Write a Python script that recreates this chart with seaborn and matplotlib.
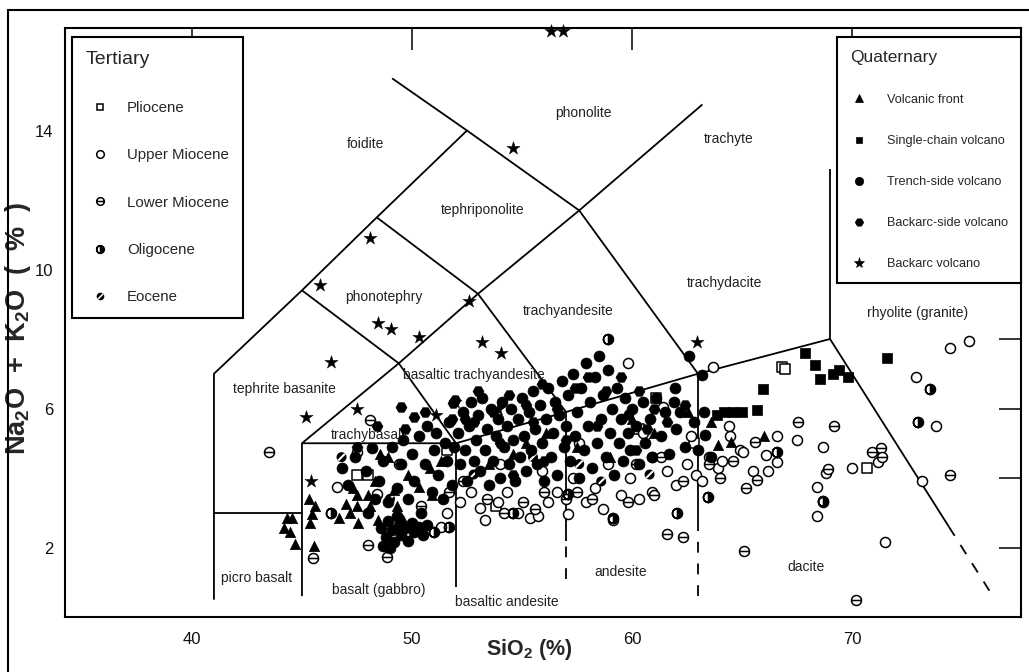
import numpy as np
import pandas as pd
import matplotlib
matplotlib.use("Agg")
import matplotlib.pyplot as plt
from matplotlib import font_manager
from matplotlib.path import Path
from matplotlib.lines import Line2D
from matplotlib.patches import Rectangle
import seaborn as sns

# ---------------------------------------------------------------- data
# (SiO2 %, Na2O+K2O %)
pliocene = [(48.0, 4.1), (51.6, 4.8), (61.1, 6.3), (60.3, 5.4), (62.8, 5.0), (66.8, 7.2),
            (66.95, 7.15), (70.7, 4.3), (53.8, 3.2), (47.5, 4.1)]

upper_miocene = [(46.6, 3.75), (47.5, 4.75), (48.4, 3.55), (51.3, 2.6), (51.6, 3.0), (52.2, 3.3),
                 (52.7, 3.6), (53.1, 3.15), (53.3, 2.8), (53.9, 3.3), (54.3, 3.6), (54.8, 3.0),
                 (55.35, 2.85), (55.75, 2.9), (56.2, 3.3), (56.6, 3.6), (57.1, 2.95), (57.3, 4.0),
                 (57.9, 3.3), (58.3, 3.7), (58.7, 3.1), (59.15, 2.8), (59.5, 3.5), (59.9, 4.0),
                 (60.3, 3.4), (60.5, 5.3), (60.9, 4.6), (61.4, 6.05), (61.6, 4.2), (62.0, 3.8),
                 (62.5, 4.4), (62.9, 4.1), (63.5, 4.6), (63.9, 4.3), (59.8, 7.3), (63.7, 7.2),
                 (57.6, 5.0), (55.9, 4.2), (54.0, 4.4), (58.9, 4.4), (60.9, 3.6), (62.7, 5.2),
                 (64.4, 5.5), (64.45, 5.2), (64.9, 4.8), (65.05, 4.75), (65.5, 4.2), (66.1, 4.65),
                 (66.6, 4.45), (66.2, 4.2), (66.6, 5.2), (67.5, 5.1), (68.7, 4.9), (68.8, 4.15),
                 (70.0, 4.3), (68.7, 3.3), (68.4, 2.9), (68.4, 3.75), (71.5, 2.15), (73.2, 3.9),
                 (71.2, 4.45), (72.9, 6.9), (74.45, 7.75), (75.3, 7.95), (73.8, 5.5), (64.1, 4.5),
                 (63.2, 3.9)]

lower_miocene = [(43.5, 4.75), (45.5, 1.7), (48.0, 2.07), (48.85, 1.73), (48.1, 5.68), (49.4, 4.4),
                 (50.4, 3.2), (51.7, 3.6), (52.3, 3.9), (53.4, 3.4), (54.2, 3.0), (55.05, 3.3),
                 (56.0, 3.6), (57.5, 3.6), (58.2, 3.4), (59.8, 3.3), (60.2, 4.4), (61.0, 3.5),
                 (61.3, 4.6), (61.6, 2.4), (62.3, 2.3), (62.3, 3.9), (63.5, 4.4), (64.0, 4.0),
                 (64.6, 4.5), (65.2, 3.7), (65.7, 3.95), (65.6, 5.05), (65.1, 1.9), (67.55, 5.6),
                 (69.2, 5.5), (68.9, 4.25), (70.9, 4.75), (71.3, 4.85), (71.35, 4.6), (74.45, 4.1),
                 (70.2, 0.5), (55.6, 3.1), (57.0, 3.4)]

oligocene = [(58.9, 8.0), (73.55, 6.55), (73.0, 5.6), (63.45, 3.45), (62.05, 3.0), (66.6, 4.75),
             (68.7, 3.35), (46.3, 3.0), (51.0, 2.45), (54.6, 3.0), (57.1, 3.55), (59.15, 2.85),
             (51.7, 2.6)]

eocene = [(52.8, 4.1), (55.5, 4.6), (57.6, 4.4), (49.0, 3.4), (60.8, 4.1), (46.8, 4.6), (58.6, 3.9)]

volcanic_front = [(44.3, 2.85), (44.55, 2.85), (44.45, 2.45), (44.2, 2.55), (44.7, 2.1), (45.55, 2.05),
                  (45.3, 3.4), (45.45, 2.95), (45.6, 3.2), (45.35, 2.7), (46.7, 2.85), (47.0, 3.25),
                  (47.3, 3.7), (47.2, 3.0), (47.55, 2.7), (47.5, 3.2), (47.5, 3.5), (48.0, 3.5),
                  (48.1, 3.2), (48.45, 2.8), (48.55, 4.7), (48.9, 4.6), (48.3, 3.9), (49.2, 3.65),
                  (49.3, 3.2), (49.6, 2.8), (49.8, 4.1), (50.3, 3.75), (50.8, 4.3), (50.9, 3.5),
                  (51.3, 4.5), (53.5, 4.4), (54.6, 4.7), (55.2, 5.0), (56.1, 5.3), (57.5, 4.9),
                  (59.0, 4.6), (60.0, 5.7), (61.0, 5.3), (62.55, 5.9), (63.6, 5.6), (63.9, 4.95),
                  (64.5, 5.05), (66.0, 5.2)]

single_chain = [(71.6, 7.45), (67.85, 7.6), (68.3, 7.25), (68.55, 6.85), (69.15, 7.0), (69.4, 7.1),
                (69.8, 6.9), (65.95, 6.55), (65.7, 5.95), (64.6, 5.9), (64.2, 5.9), (63.85, 5.8),
                (65.0, 5.9)]

trench_side = [
    (48.6, 2.55), (48.8, 2.3), (48.9, 2.75), (49.1, 2.5), (49.2, 2.15), (49.4, 2.65), (49.5, 2.35),
    (49.7, 2.55), (49.8, 2.2), (50.0, 2.7), (50.1, 2.45), (50.3, 2.6), (50.5, 2.35), (49.3, 2.9),
    (48.7, 2.05), (50.7, 2.65), (49.0, 2.0),
    (46.8, 4.3), (47.4, 4.6), (47.9, 4.2), (48.2, 4.85), (48.5, 3.9), (48.7, 4.5), (48.9, 3.3),
    (49.1, 4.9), (49.3, 3.7), (49.5, 4.4), (49.6, 5.1), (49.8, 3.4), (50.0, 4.7), (50.1, 3.9),
    (50.3, 5.2), (50.4, 3.0), (50.6, 4.4), (50.7, 5.5), (50.9, 3.6), (51.0, 4.8), (51.1, 5.3),
    (51.2, 4.1), (51.4, 3.4), (51.5, 5.0), (51.6, 4.5), (51.7, 5.6), (51.8, 3.8), (51.9, 4.9),
    (47.1, 3.8), (48.0, 3.0), (48.3, 3.4),
    (52.1, 5.3), (52.2, 4.4), (52.3, 5.9), (52.4, 4.8), (52.5, 3.9), (52.6, 5.5), (52.7, 6.2),
    (52.8, 4.5), (52.9, 5.1), (53.0, 5.8), (53.1, 4.2), (53.2, 6.3), (53.3, 4.8), (53.4, 5.4),
    (53.5, 3.8), (53.6, 6.0), (53.7, 4.5), (53.8, 5.2), (53.9, 5.7), (54.0, 4.0), (54.1, 6.2),
    (54.2, 4.9), (54.3, 5.5), (54.4, 4.4), (54.5, 6.0), (54.6, 5.1), (54.7, 3.9), (54.8, 5.7),
    (54.9, 4.6), (55.0, 6.3), (55.1, 5.2), (55.2, 4.2), (55.3, 5.9), (55.4, 4.8), (55.5, 6.5),
    (55.6, 5.4), (55.7, 4.4), (55.8, 6.1), (55.9, 5.0), (56.0, 3.9), (56.1, 5.7), (56.2, 6.6),
    (56.3, 4.6), (56.4, 5.3), (56.5, 6.2), (56.6, 4.1), (56.7, 5.8), (56.8, 6.8), (56.9, 4.9),
    (57.0, 5.5),
    (57.1, 6.4), (57.2, 4.5), (57.3, 7.0), (57.4, 5.2), (57.5, 5.9), (57.6, 4.0), (57.7, 6.6),
    (57.8, 4.8), (57.9, 7.3), (58.0, 5.5), (58.1, 6.2), (58.2, 4.3), (58.3, 6.9), (58.4, 5.0),
    (58.5, 7.5), (58.6, 5.7), (58.7, 6.4), (58.8, 4.6), (58.9, 7.1), (59.0, 5.3), (59.1, 6.0),
    (59.2, 4.1), (59.3, 6.6), (59.4, 5.0), (59.5, 5.7), (59.6, 4.5), (59.7, 6.3), (59.8, 5.3),
    (59.9, 4.8), (60.0, 6.0), (60.2, 5.5), (60.3, 4.4), (60.5, 6.2), (60.6, 5.0), (60.8, 5.7),
    (60.9, 4.6),
    (61.1, 6.3), (61.3, 5.2), (61.5, 5.9), (61.7, 4.7), (61.9, 6.2), (62.0, 5.4), (62.2, 5.9),
    (62.4, 4.9), (62.6, 7.5), (62.8, 5.6), (63.0, 4.8), (63.2, 6.95), (63.25, 5.9), (63.3, 5.25),
    (63.6, 4.6), (61.95, 6.6)]

backarc_side = [(49.5, 6.05), (50.1, 5.75), (51.85, 6.15), (51.95, 6.25), (51.8, 5.7), (50.6, 5.9),
                (49.7, 5.4), (52.4, 5.7), (53.0, 6.5), (53.7, 5.9), (54.4, 6.4), (55.2, 6.1),
                (55.9, 6.7), (56.6, 6.0), (57.4, 6.6), (58.0, 6.9), (58.8, 6.5), (59.5, 6.9),
                (60.3, 6.5), (61.0, 6.0), (52.8, 5.6), (54.0, 5.0), (55.5, 5.6), (57.0, 5.1),
                (58.4, 5.5), (59.8, 5.8), (60.7, 5.4), (61.6, 5.6), (62.4, 6.1), (47.5, 4.9),
                (48.4, 5.5), (56.0, 4.5), (54.6, 4.1), (60.2, 4.8)]

backarc_volcano = [(56.3, 16.85), (56.85, 16.85), (54.6, 13.5), (48.1, 10.9), (45.8, 9.55),
                   (48.45, 8.45), (49.05, 8.3), (50.3, 8.07), (52.6, 9.1), (53.2, 7.9), (54.05, 7.6),
                   (46.3, 7.35), (45.2, 5.75), (47.5, 6.0), (51.1, 5.8), (51.95, 6.2), (53.9, 6.0),
                   (62.95, 7.9), (45.4, 3.9)]

# TAS field boundaries (SiO2, alkali)
solid_boundaries = [
    [(41, 0.5), (41, 7), (45, 9.4), (48.4, 11.5), (52.5, 14)],
    [(41, 3), (45, 3)],
    [(45, 0.6), (45, 5), (49.4, 7.3), (53, 9.3), (57.6, 11.7), (63.2, 14.75)],
    [(45, 5), (52, 5), (57, 5.9), (63, 7), (69, 8)],
    [(45, 9.4), (49.4, 7.3), (52, 5)],
    [(48.4, 11.5), (53, 9.3), (57, 5.9)],
    [(49.1, 15.5), (52.5, 14), (57.6, 11.7), (63, 7)],
    [(52, 0.85), (52, 5)],
    [(57, 2.2), (57, 5.9)],
    [(63, 2.5), (63, 7)],
    [(69, 8), (69, 12.9)],
    [(69, 8), (74.4, 2.6)],
]
dashed_boundaries = [
    [(57, 1.1), (57, 2.2)],
    [(63, 0.6), (63, 2.5)],
    [(74.4, 2.6), (76.5, 0.5)],
]

field_names = ["foidite", "phonolite", "trachyte", "tephriponolite", "phonotephry",
               "trachyandesite", "trachydacite", "rhyolite (granite)", "tephrite basanite",
               "basaltic trachyandesite", "trachybasalt", "picro basalt", "basalt (gabbro)",
               "basaltic andesite", "andesite", "dacite"]
field_x = [47.9, 57.8, 64.4, 53.2, 48.7, 57.1, 64.2, 73.0, 44.2, 52.8, 48.0, 42.95, 48.5, 54.3, 59.5, 67.9]
field_y = [13.6, 14.5, 13.75, 11.7, 9.2, 8.8, 9.6, 8.75, 6.55, 6.95, 5.25, 1.12, 0.78, 0.43, 1.3, 1.44]

x_ticks = [40, 50, 60, 70]
y_ticks = [2, 4, 6, 8, 10, 12, 14, 16]
y_tick_labels = ["2", "", "6", "", "10", "", "14", ""]

tertiary_labels = ["Pliocene", "Upper Miocene", "Lower Miocene", "Oligocene", "Eocene"]
quaternary_labels = ["Volcanic front", "Single-chain volcano", "Trench-side volcano",
                     "Backarc-side volcano", "Backarc volcano"]

# ---------------------------------------------------------------- markers
def arc(a0, a1, n=40):
    t = np.linspace(a0, a1, n)
    return np.column_stack([np.cos(t), np.sin(t)])

_c = arc(0, 2 * np.pi, 48)
M_BAR = Path(np.vstack([_c, [[-1, 0], [1, 0]]]),
             [Path.MOVETO] + [Path.LINETO] * (len(_c) - 1) + [Path.MOVETO, Path.LINETO])

_r = arc(-np.pi / 2, np.pi / 2, 24)
_l = arc(np.pi / 2, 3 * np.pi / 2, 24)
M_HALF = Path(np.vstack([_r, [[0, -1]], _l, _l[-2::-1]]),
              [Path.MOVETO] + [Path.LINETO] * (len(_r) - 1) + [Path.CLOSEPOLY]
              + [Path.MOVETO] + [Path.LINETO] * (len(_l) - 1) + [Path.LINETO] * (len(_l) - 1))

_w = 0.2
_rect = np.array([[-0.93, -_w], [-0.93, _w], [0.93, _w], [0.93, -_w], [-0.93, -_w]])
_rot = np.array([[np.cos(np.pi / 4), -np.sin(np.pi / 4)], [np.sin(np.pi / 4), np.cos(np.pi / 4)]])
_rect = _rect @ _rot.T
M_SLIT = Path(np.vstack([_c, _rect]),
              [Path.MOVETO] + [Path.LINETO] * (len(_c) - 1)
              + [Path.MOVETO] + [Path.LINETO] * 3 + [Path.CLOSEPOLY])

# ---------------------------------------------------------------- style
sns.set_theme(style="white")
_names = {f.name for f in font_manager.fontManager.ttflist}
if "Liberation Sans Narrow" in _names:
    BASE, SC = "Liberation Sans Narrow", 1.2
else:
    BASE, SC = "Liberation Sans", 1.0
plt.rcParams["font.family"] = [BASE, "DejaVu Sans"]
plt.rcParams["mathtext.fontset"] = "custom"
plt.rcParams["mathtext.rm"] = BASE
plt.rcParams["mathtext.bf"] = BASE + ":bold"
plt.rcParams["mathtext.it"] = BASE + ":italic"

W, H = 1029, 672
fig = plt.figure(figsize=(W / 100, H / 100), dpi=100)
fig.patch.set_facecolor("white")
ax = fig.add_axes([65 / W, 55 / H, 956 / W, 589 / H])
ax.set_facecolor("white")

# boundaries
for seg in solid_boundaries:
    xs, ys = zip(*seg)
    ax.plot(xs, ys, color="black", lw=1.3, zorder=1, solid_capstyle="butt")
for seg in dashed_boundaries:
    xs, ys = zip(*seg)
    ax.plot(xs, ys, color="black", lw=1.3, ls=(0, (6, 6)), zorder=1)

for name, fx, fy in zip(field_names, field_x, field_y):
    ax.text(fx, fy, name, ha="center", va="center", fontsize=10 * SC, color="#222222", zorder=2)

# scatter groups
groups = [
    ("Pliocene", pliocene, dict(marker="s", s=42, facecolor="white", edgecolor="black", linewidth=1.1)),
    ("Upper Miocene", upper_miocene, dict(marker="o", s=52, facecolor="white", edgecolor="black", linewidth=1.1)),
    ("Lower Miocene", lower_miocene, dict(marker=M_BAR, s=52, facecolor="white", edgecolor="black", linewidth=1.1)),
    ("Oligocene", oligocene, dict(marker=M_HALF, s=52, facecolor="black", edgecolor="black", linewidth=1.1)),
    ("Eocene", eocene, dict(marker=M_SLIT, s=52, facecolor="black", edgecolor="none", linewidth=0)),
    ("Volcanic front", volcanic_front, dict(marker="^", s=55, facecolor="black", edgecolor="black", linewidth=0.5)),
    ("Single-chain volcano", single_chain, dict(marker="s", s=42, facecolor="black", edgecolor="black", linewidth=0.5)),
    ("Trench-side volcano", trench_side, dict(marker="o", s=62, facecolor="black", edgecolor="black", linewidth=0.5)),
    ("Backarc-side volcano", backarc_side, dict(marker="H", s=62, facecolor="black", edgecolor="black", linewidth=0.5)),
    ("Backarc volcano", backarc_volcano, dict(marker="*", s=100, facecolor="black", edgecolor="black", linewidth=0.3)),
]
legend_ms = {"Pliocene": 5, "Upper Miocene": 5.5, "Lower Miocene": 5.5, "Oligocene": 5.5, "Eocene": 5.5,
             "Volcanic front": 5.5, "Single-chain volcano": 5, "Trench-side volcano": 6,
             "Backarc-side volcano": 6, "Backarc volcano": 8}

frames = []
for name, pts, _ in groups:
    d = pd.DataFrame(pts, columns=["sio2", "alk"])
    d["group"] = name
    frames.append(d)
df = pd.concat(frames, ignore_index=True)

for z, (name, _, kw) in enumerate(groups):
    sub = df[df["group"] == name]
    sns.scatterplot(data=sub, x="sio2", y="alk", ax=ax, legend=False, zorder=3 + z * 0.01,
                    clip_on=(name != "Backarc volcano"), **kw)

# axes
ax.set_xlim(34.23, 77.68)
ax.set_ylim(0, 16.95)
ax.set_xticks(x_ticks)
ax.set_xticklabels([str(v) for v in x_ticks])
ax.set_yticks(y_ticks)
ax.set_yticklabels(y_tick_labels)
for sp in ax.spines.values():
    sp.set_visible(True)
    sp.set_color("black")
    sp.set_linewidth(1.5)
ax.tick_params(axis="both", direction="in", length=16, width=1.1, color="black",
               top=True, right=True, labelsize=12 * SC, labelcolor="#111111")
ax.tick_params(axis="x", pad=10.5)
ax.tick_params(axis="y", pad=8.5)

ax.set_xlabel("SiO$_\\mathbf{2}$ (%)", fontsize=15.5 * SC, fontweight="bold")
ax.xaxis.set_label_coords(0.486, -0.034)
ax.set_ylabel("Na$_\\mathbf{2}$O  +  K$_\\mathbf{2}$O  (  %  )", fontsize=19.5 * SC, fontweight="bold")
ax.yaxis.set_label_coords(-0.0335, 0.49)

# legends
gk = {name: kw for name, _, kw in groups}

def handle(name):
    kw = gk[name]
    return Line2D([], [], linestyle="none", marker=kw["marker"], markersize=legend_ms[name],
                  markerfacecolor=kw["facecolor"], markeredgecolor=kw["edgecolor"],
                  markeredgewidth=max(kw["linewidth"], 0.4))

def add_legend(labels, title, fs, tfs, anchor, loc, mk_px, lab_px, step_px, bp_px):
    fpx = fs * 100 / 72
    bp = bp_px / fpx
    hl = 2 * (mk_px - bp_px) / fpx
    tp = (lab_px - bp_px - hl * fpx) / fpx
    ls = (step_px - 1.15 * fpx) / fpx
    leg = ax.legend([handle(l) for l in labels], labels, title=title,
                    loc=loc, bbox_to_anchor=anchor, borderaxespad=0, fontsize=fs,
                    title_fontsize=tfs, alignment="left", frameon=True, fancybox=False,
                    edgecolor="black", framealpha=1, borderpad=bp, handlelength=hl,
                    handletextpad=tp, labelspacing=ls)
    leg.get_frame().set_linewidth(1.5)
    leg.set_zorder(10)
    return leg

leg1 = add_legend(tertiary_labels, "Tertiary", 10.8 * SC, 14 * SC, (0.0073, 0.985), "upper left",
                  28, 55, 50.5, 14)
ax.add_artist(leg1)
leg2 = add_legend(quaternary_labels, "Quaternary", 9.2 * SC, 12.5 * SC, (1.0, 0.985), "upper right",
                  22, 50, 43.8, 13)

# outer frame
fig.patches.append(Rectangle((8 / W, -0.02), 1.05, (H - 10) / H + 0.02, transform=fig.transFigure,
                             fill=False, edgecolor="black", linewidth=1.5))

fig.savefig("out.png", dpi=100)
